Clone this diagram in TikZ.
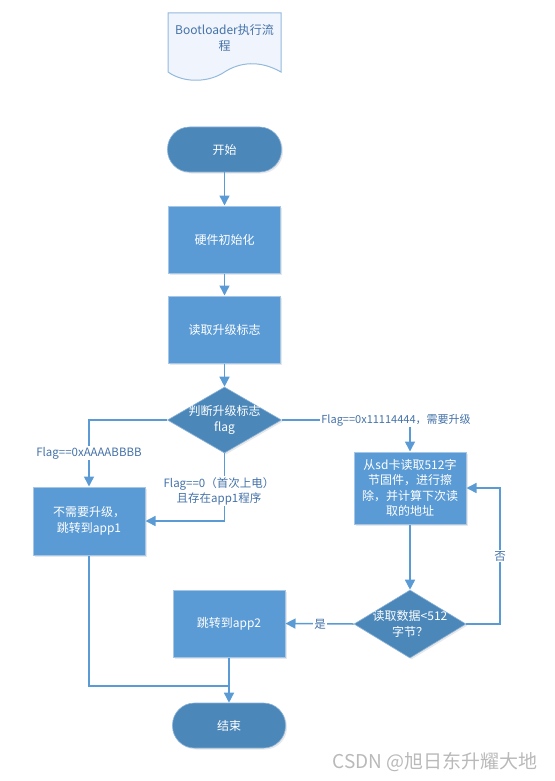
\documentclass[tikz,border=0pt]{standalone}
\usepackage{fontspec}
\setmainfont{Noto Sans CJK SC}
\usetikzlibrary{arrows.meta,shapes.geometric,shadows}
\definecolor{dkblue}{RGB}{76,135,185}
\definecolor{boxblue}{RGB}{91,155,213}
\definecolor{lineblue}{RGB}{91,155,213}
\definecolor{txtblue}{RGB}{68,114,168}
\definecolor{edgeblue}{RGB}{165,198,230}
\begin{document}
\begin{tikzpicture}[x=1pt,y=-1pt,
  every node/.style={font=\fontsize{12}{15.5}\selectfont},
  shad/.style={drop shadow={opacity=0.18,shadow xshift=1.5pt,shadow yshift=-1.5pt}},
  term/.style={rectangle,rounded corners=22pt,fill=dkblue,draw=edgeblue!70!dkblue,line width=0.6pt,
    text=white,minimum width=114pt,minimum height=45pt,inner sep=0pt,shad},
  procbox/.style={rectangle,fill=boxblue,draw=edgeblue,line width=1pt,text=white,
    minimum width=112pt,minimum height=67pt,inner sep=0pt,align=center,shad},
  dia/.style={diamond,fill=dkblue,draw=edgeblue!70!dkblue,line width=0.6pt,
    minimum width=114pt,minimum height=66pt,inner sep=0pt,shad},
  diatext/.style={text=white,align=center,inner sep=0pt},
  conn/.style={draw=lineblue,line width=1.5pt,-{Triangle[length=10pt,width=10pt]}},
  plain/.style={draw=lineblue,line width=1.5pt},
  lbl/.style={fill=white,text=txtblue,inner sep=1pt,align=center,font=\fontsize{11.5}{15}\selectfont}
]
\useasboundingbox (0,0) rectangle (554,781);
% title document shape
\draw[draw=edgeblue!80!dkblue,line width=1pt,fill={rgb,255:red,240;green,244;blue,252}]
  (168,13) -- (281,13) -- (281,72) .. controls (260,60) and (240,62) .. (224.5,72)
  .. controls (210,82) and (185,84) .. (168,72) -- cycle;
\node[text=txtblue,align=center] (title) at (224.5,38) {Bootloader执行流\\程};
% nodes
\node[term] (start) at (224.5,149.5) {开始};
\node[procbox] (hw) at (224.5,239.5) {硬件初始化};
\node[procbox] (rd) at (224.5,329.5) {读取升级标志};
\node[dia] (dec) at (224.5,420) {};
\node[diatext] (dect) at (dec) {判断升级标志\\flag};
\node[procbox,minimum height=68pt] (app1) at (89,521) {不需要升级，\\跳转到app1};
\node[procbox,minimum height=72pt] (sd) at (410,488) {从sd卡读取512字\\节固件，进行擦\\除，并计算下次读\\取的地址};
\node[dia,minimum width=112pt,minimum height=68pt] (rd2) at (410,624) {};
\node[diatext] (rd2t) at (rd2) {读取数据<512\\字节？};
\node[procbox] (app2) at (229,623.5) {跳转到app2};
\node[term,minimum width=113pt] (end) at (229,725.5) {结束};
\coordinate (loop) at (500,624);
\coordinate (mg) at (229,686);
% connectors
\draw[conn] (start) -- (hw);
\draw[conn] (hw) -- (rd);
\draw[conn] (rd) -- (dec);
\draw[conn] (dec.west) -| (app1.north);
\draw[conn] (dec.south) |- (app1.east);
\draw[conn] (dec.east) -| (sd.north);
\draw[conn] (sd.south) -- (rd2.north);
\draw[conn] (rd2.east) -- (loop) |- (sd.east);
\draw[conn] (rd2.west) -- (app2.east);
\draw[conn] (app2.south) -- (end.north);
\draw[plain] (app1.south) |- (mg);
% labels
\node[lbl] (l1) at (89,453) {Flag==0xAAAABBBB};
\node[lbl] (l2) at (219,491) {Flag==0（首次上电）\\且存在app1程序};
\node[lbl,font=\fontsize{11}{14}\selectfont] (l3) at (396,420) {Flag==0x11114444，需要升级};
\node[lbl] (l4) at (500,556) {否};
\node[lbl] (l5) at (320,624) {是};
% watermark
\node[text=gray!55,anchor=east,font=\fontsize{19}{22}\selectfont] (wm) at (541,762) {CSDN @旭日东升耀大地};
\end{tikzpicture}
\end{document}
